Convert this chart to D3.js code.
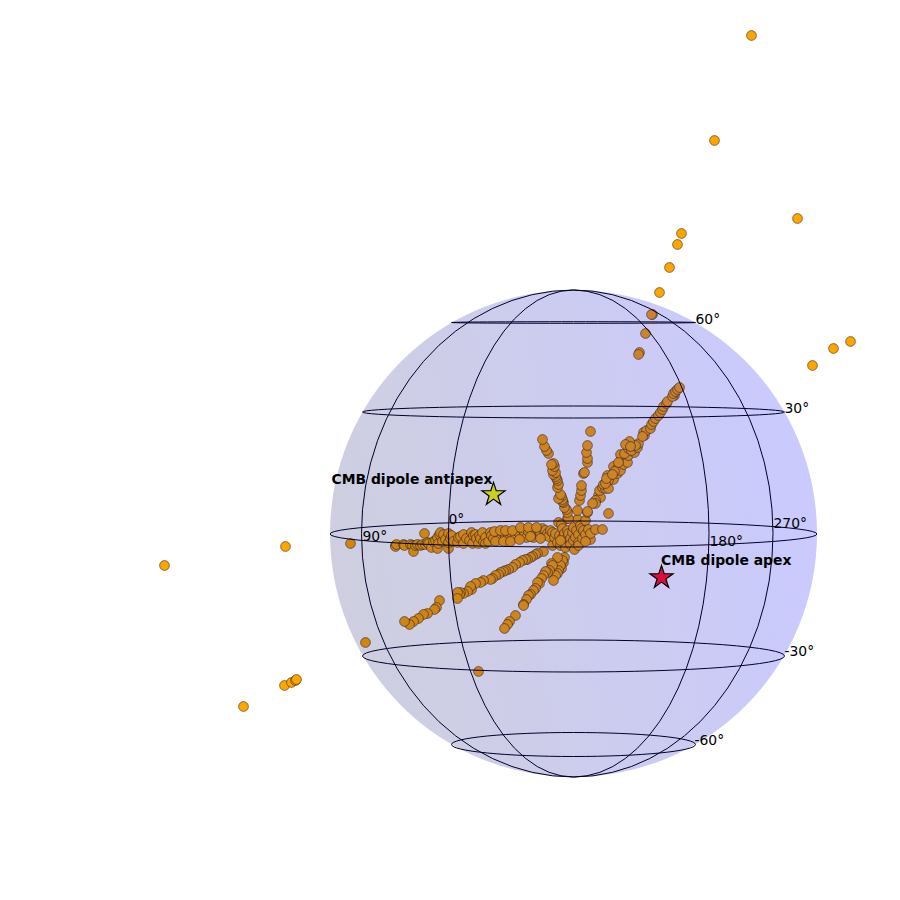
<!DOCTYPE html>
<html>
<head>
<meta charset="utf-8">
<script src="https://cdn.jsdelivr.net/npm/d3@7"></script>
<style>
  html, body { margin: 0; padding: 0; background: #fff; }
  svg { display: block; }
  text { font-family: "DejaVu Sans", sans-serif; font-size: 13.9px; fill: #000; }
</style>
</head>
<body>
<div id="chart"></div>
<script>
// projected positions, in units from the sphere centre (y up)
var outerX = [177,140,223,107,103,95,85,238,259,276,-289,-410,-331,-290,-283,-279,-278];
var outerY = [499,394,316,301,290,267,242,169,186,193,-12,-31,-172,-151,-148,-146,-145];

var strayX = [78,77,71,65,64,-224,-209,-96,16,34,-150];
var strayY = [220,220,201,182,180,-9,-108,-137,103,21,1];

var neArmX = [24,26,25,28,31,29,34,33,36,39,34,31,39,43,43,46,49,47,53,54,46,50,60,54,57,63,64,61,55,51,
  70,69,72,76,77,79,81,84,86,88,89,92,93,100,98,99,101,103,105,21,21,18,13,3,
  44,40,32,38,56,68];
var neArmY = [39,37,44,47,46,50,46,59,56,55,54,51,68,61,66,64,70,76,72,79,80,81,82,86,84,87,91,89,93,90,
  99,102,104,106,110,113,116,119,122,125,128,131,133,139,138,141,143,145,147,34,31,31,23,24,
  72,63,56,60,88,98];

var nwArmX = [-6,-7,-8,-10,-11,-12,-12,-13,-16,-14,-17,-16,-17,-18,-19,-21,-19,-22,-20,-21,-23,-26,-28,-30,-32];
var nwArmY = [16,22,25,27,32,33,35,38,36,40,47,50,54,56,58,60,62,64,68,71,70,81,84,88,95];

var nArmX = [5,6,7,7,9,10,13,13,12,13];
var nArmY = [34,39,44,49,61,62,72,76,82,89];

var westArmX = [-179,-179,-178,-171,-170,-164,-162,-161,-159,-157,-154,-152,-149,-147,-146,-143,-141,-139,-137,-137,
  -136,-135,-134,-132,-131,-129,-126,-126,-126,-124,-123,-121,-117,-116,-114,-111,-111,-108,-105,-103,
  -102,-101,-99,-98,-96,-95,-94,-92,-91,-89,-89,-86,-84,-83];
var westArmY = [-11,-12,-10,-10,-11,-10,-11,-17,-11,-10,-11,-10,-10,-8,-9,-13,-7,-6,-14,-3,
  -9,0,2,-7,0,-5,-14,1,-8,-4,-1,-7,-8,-3,-2,0,-9,-4,-6,2,
  -9,-1,0,-4,-9,-1,-4,2,-7,-3,-9,-7,2,-1];

var centreX = [-81,-77,-74,-71,-69,-66,-64,-62,-59,-57,-55,-52,-50,-48,-46,-42,-41,-38,-36,-34,
  -32,-29,-27,-26,-24,-22,-22,-20,-19,-17,-16,-15,-14,-13,-12,-12,-10,-9,-9,-7,
  -7,-7,-6,-4,-4,-2,-1,-1,0,1,2,3,4,4,4,6,7,8,9,11,
  11,13,14,16,16,21,28,
  -80,-79,-74,-71,-69,-64,-62,-55,-54,-46,-44,-38,-34,-14,11];
var centreY = [-4,2,-4,1,-1,-1,-3,0,-1,3,1,5,2,-3,3,4,-3,2,4,1,
  6,4,1,-2,4,2,-11,-3,1,-8,12,-1,-11,10,6,-3,1,-8,-13,4,
  -3,16,1,-4,-10,2,7,-6,-15,-3,4,15,0,-8,-11,9,6,-4,4,0,
  14,22,5,-5,1,5,5,
  3,-7,4,-7,4,-7,4,-5,7,7,-2,7,-4,-6,-7];

var swArmX = [-31,-37,-39,-42,-44,-47,-49,-52,-55,-59,-62,-66,-69,-71,-74,-76,-79,-82,-84,-91,
  -94,-99,-103,-104,-107,-111,-114,-115,-117,-117];
var swArmY = [-17,-19,-20,-22,-23,-25,-25,-26,-28,-30,-33,-35,-36,-37,-38,-40,-41,-44,-45,-46,
  -48,-49,-55,-52,-57,-59,-58,-60,-58,-64];

var farSwX = [-135,-138,-140,-147,-151,-156,-161,-165,-170];
var farSwY = [-66,-73,-75,-79,-80,-84,-87,-90,-87];

var ssArmX = [-10,-11,-12,-13,-14,-16,-17,-17,-19,-21,-23,-22,-25,-27,-29,-31,-33,-35,-37,-39,-41,-44,-46,
  -48,-51,-51,-59,-65,-67,-70];
var ssArmY = [-23,-28,-26,-34,-31,-36,-23,-39,-41,-46,-29,-31,-36,-38,-37,-41,-44,-49,-48,-54,-56,-60,-61,
  -65,-70,-71,-81,-87,-90,-94];

var starNames = ["CMB dipole antiapex", "CMB dipole apex"];
var starX = [-81, 87];
var starY = [40, -43];
var starLabelX = [-82, 86.5];
var starLabelY = [51, -30];
var starColors = ["#c8cf1e", "#d8103f"];

var latValues = [60, 30, 0, -30, -60];
var latCenterY = [212, 122.5, 0.5, -121.5, -210];
var latRadiusX = [122, 211, 243.5, 211, 122];
var latRadiusY = [0.8, 6, 13, 16, 12];
var latLabels = ["60°", "30°", "", "-30°", "-60°"];
var latLabelX = [121, 210, 0, 210, 120];
var latLabelY = [216, 127, 0, -116, -205];

var lonLabels = ["0°", "90°", "180°", "270°"];
var lonLabelX = [-126, -212, 135, 199];
var lonLabelY = [16, -1, -6, 12];
var lonRadiusX = [125, 212, 135.5, 199.5];

var width = 900, height = 900;
var sphereR = 243.5;
var centerX = -1, centerY = 1;

var x = d3.scaleLinear().domain([-574.5, 325.5]).range([0, width]);
var y = d3.scaleLinear().domain([534.5, -365.5]).range([0, height]);

var svg = d3.select("#chart")
    .append("svg")
    .attr("width", width)
    .attr("height", height);

var shade = svg.append("defs").append("linearGradient")
    .attr("id", "sphere_shade")
    .attr("x1", 0).attr("y1", 0.6)
    .attr("x2", 1).attr("y2", 0.4);
shade.append("stop").attr("offset", "0%").attr("stop-color", "#00005a").attr("stop-opacity", 0.19);
shade.append("stop").attr("offset", "100%").attr("stop-color", "#0000ff").attr("stop-opacity", 0.21);

function zipPoints(xs, ys) {
    return xs.map(function (d, i) { return { x: d, y: ys[i] }; });
}

var points = [].concat(
    zipPoints(outerX, outerY),
    zipPoints(strayX, strayY),
    zipPoints(ssArmX, ssArmY),
    zipPoints(farSwX, farSwY),
    zipPoints(swArmX, swArmY),
    zipPoints(westArmX, westArmY),
    zipPoints(centreX, centreY),
    zipPoints(nArmX, nArmY),
    zipPoints(nwArmX, nwArmY),
    zipPoints(neArmX, neArmY)
);

// points go under the sphere, that is what darkens the ones inside it
svg.append("g")
    .selectAll("circle")
    .data(points)
    .enter().append("circle")
    .attr("cx", function (d) { return x(d.x); })
    .attr("cy", function (d) { return y(d.y); })
    .attr("r", 4.9)
    .attr("fill", "#ffa500")
    .attr("stroke", "#000")
    .attr("stroke-opacity", 0.5)
    .attr("stroke-width", 0.9);

svg.append("circle")
    .attr("cx", x(centerX))
    .attr("cy", y(centerY))
    .attr("r", sphereR)
    .attr("fill", "url(#sphere_shade)");

var grid = svg.append("g")
    .attr("fill", "none")
    .attr("stroke", "#00002a")
    .attr("stroke-width", 1);

grid.selectAll("ellipse")
    .data(latValues)
    .enter().append("ellipse")
    .attr("cx", x(centerX))
    .attr("cy", function (d, i) { return y(latCenterY[i]); })
    .attr("rx", function (d, i) { return latRadiusX[i]; })
    .attr("ry", function (d, i) { return latRadiusY[i]; });

// meridians are half ellipses from pole to pole
grid.selectAll("path")
    .data(lonRadiusX)
    .enter().append("path")
    .attr("d", function (d, i) {
        var sweep = i < 2 ? 0 : 1;
        return "M" + x(centerX) + "," + y(centerY + sphereR) + "A" + d + "," + sphereR + " 0 0 " + sweep + " " + x(centerX) + "," + y(centerY - sphereR);
    });

svg.append("g")
    .selectAll("text")
    .data(latLabels)
    .enter().append("text")
    .attr("x", function (d, i) { return x(latLabelX[i]); })
    .attr("y", function (d, i) { return y(latLabelY[i]); })
    .attr("dy", "0.36em")
    .text(function (d) { return d; });

svg.append("g")
    .selectAll("text")
    .data(lonLabels)
    .enter().append("text")
    .attr("x", function (d, i) { return x(lonLabelX[i]); })
    .attr("y", function (d, i) { return y(lonLabelY[i]); })
    .attr("dy", "0.36em")
    .text(function (d) { return d; });

var star = d3.symbol().type(d3.symbolStar).size(165);

svg.append("g")
    .selectAll("path")
    .data(starNames)
    .enter().append("path")
    .attr("d", star)
    .attr("transform", function (d, i) { return "translate(" + x(starX[i]) + "," + y(starY[i]) + ")"; })
    .attr("fill", function (d, i) { return starColors[i]; })
    .attr("stroke", "#000")
    .attr("stroke-width", 1.2);

svg.append("g")
    .selectAll("text")
    .data(starNames)
    .enter().append("text")
    .attr("x", function (d, i) { return x(starLabelX[i]); })
    .attr("y", function (d, i) { return y(starLabelY[i]); })
    .attr("text-anchor", function (d, i) { return i == 0 ? "end" : "start"; })
    .attr("font-weight", "bold")
    .text(function (d) { return d; });
</script>
</body>
</html>
